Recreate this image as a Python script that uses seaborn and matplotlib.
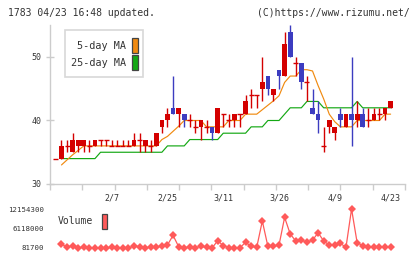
import numpy as np
import matplotlib
matplotlib.use('Agg')
import matplotlib.pyplot as plt
from matplotlib.patches import Rectangle
import seaborn as sns

# Daily candles (first entry is one extra day before the volume series)
opens = [34, 34, 36, 35, 36, 36, 36, 36, 37, 37, 36, 36, 36, 36, 36, 37, 36, 36, 36,
         39, 40, 42, 41, 41, 40, 39, 39, 39, 39, 38, 41, 40, 40, 41, 41, 44, 44, 45, 47,
         44, 48, 47, 54, 49, 49, 46, 42, 41, 36, 39, 38, 41, 39, 41, 40, 41, 40, 40, 41,
         41, 42]
highs = [34, 37, 37, 38, 37, 37, 37, 37, 37, 37, 37, 37, 37, 37, 38, 38, 37, 37, 38,
         40, 42, 47, 42, 41, 41, 40, 40, 40, 39, 42, 41, 41, 41, 41, 44, 45, 44, 50, 47,
         45, 48, 54, 55, 50, 49, 47, 45, 43, 39, 40, 39, 42, 41, 50, 43, 42, 42, 42, 42,
         42, 43]
lows = [34, 34, 35, 35, 35, 35, 35, 36, 36, 36, 36, 36, 36, 36, 36, 35, 35, 35, 36,
        38, 39, 41, 39, 39, 39, 38, 37, 38, 37, 38, 39, 39, 39, 39, 41, 42, 42, 43, 44,
        43, 45, 47, 50, 47, 45, 43, 41, 38, 35, 38, 37, 39, 39, 36, 39, 39, 39, 40, 40,
        40, 42]
closes = [34, 36, 36, 37, 37, 37, 36, 37, 37, 37, 36, 36, 36, 36, 37, 37, 37, 36, 38,
          40, 41, 41, 42, 40, 40, 39, 40, 39, 38, 42, 41, 40, 41, 41, 43, 44, 44, 46, 45,
          45, 47, 52, 50, 49, 46, 46, 41, 40, 36, 40, 39, 40, 41, 40, 41, 39, 40, 41, 41,
          42, 43]

ma5 = [33, 33.8, 34.6, 35.3, 36, 36, 36, 36, 36, 36,
       36, 36, 36, 36, 36, 36, 36, 36, 37, 37.5,
       38.3, 39.1, 40, 40, 40, 40, 39, 39, 39, 39,
       40, 40, 40, 41, 41, 41, 41.7, 42.4, 43.1, 43.9,
       46, 47, 47, 48, 48, 47.8, 45.5, 43.4, 41, 39.8,
       39, 39, 39, 40, 40, 40, 40, 40, 41, 41]
ma25 = [34, 34, 34, 34, 34, 34, 34, 35, 35, 35,
        35, 35, 35, 35, 35, 35, 35, 35, 35, 36,
        36, 36, 36, 37, 37, 37, 37, 37, 37, 38,
        38, 38, 38, 38, 39, 39, 39, 40, 40, 40,
        41, 42, 42, 42, 43, 43, 43, 42, 42, 42,
        42, 42, 42, 43, 42, 42, 42, 42, 42, 42]

volume = [1217000, 391000, 701000, 120000, 288000, 185000, 81700, 95000, 90000, 288000,
          88000, 185000, 85000, 701000, 494000, 92000, 391000, 288000, 804000, 1010000,
          4003000, 494000, 185000, 288000, 185000, 597000, 288000, 88000, 2352000, 804000,
          185000, 185000, 185000, 1836000, 597000, 288000, 8440000, 597000, 597000, 1010000,
          9575000, 4415000, 2249000, 2455000, 1939000, 2455000, 4828000, 2249000, 1010000, 1010000,
          1526000, 288000, 12154300, 1733000, 804000, 494000, 494000, 494000, 494000, 494000]

date_labels = ['2/7', '2/25', '3/11', '3/26', '4/9', '4/23']
date_pos = [9, 19, 29, 39, 49, 59]
price_ticks = [30, 40, 50]
vol_ticks = [81700, 6118000, 12154300]

RED = '#d40000'
BLUE = '#3c3cc0'
ORANGE = '#f08a10'
GREEN = '#14a814'
VOLC = '#ff5a5a'
GRAY = '#cccccc'
TXT = '#333333'

sns.set_theme(style='white')
plt.rcParams['font.family'] = ['DejaVu Sans Mono', 'DejaVu Sans']

W, H = 420, 259
fig = plt.figure(figsize=(W / 100, H / 100), dpi=100)


def px_axes(l, t, r, b):
    return fig.add_axes([l / W, 1 - b / H, (r - l) / W, (b - t) / H])


def px_rect(l, t, r, b, **kw):
    fig.add_artist(Rectangle((l / W, 1 - b / H), (r - l) / W, (b - t) / H,
                             transform=fig.transFigure, **kw))


ax = px_axes(50, 25.25, 405, 184)
axv = px_axes(50, 205, 405, 252)
xlim = (-2.06, 61.58)

# moving averages
vx = np.arange(len(volume))
sns.lineplot(x=vx, y=ma25, ax=ax, color=GREEN, lw=0.85, zorder=2)
sns.lineplot(x=vx, y=ma5, ax=ax, color=ORANGE, lw=0.85, zorder=2)

# candles
cx = np.arange(len(opens)) - 1
o = np.array(opens)
c = np.array(closes)
cols = [BLUE if cc < oo else RED for oo, cc in zip(o, c)]
ax.vlines(cx, lows, highs, colors=cols, lw=1.0, zorder=3)
body = o != c
ax.bar(cx[body], np.abs(c - o)[body], bottom=np.minimum(o, c)[body], width=0.85,
       color=np.array(cols)[body], lw=0, zorder=4)
ax.hlines(o[~body], cx[~body] - 0.45, cx[~body] + 0.45, colors=np.array(cols)[~body],
          lw=1.0, zorder=4)

ax.set_xlim(xlim)
ax.set_ylim(30, 55)
ax.set_xlabel('')
ax.set_ylabel('')
for s in ['top', 'right']:
    ax.spines[s].set_visible(False)
for s in ['left', 'bottom']:
    ax.spines[s].set_color(GRAY)
    ax.spines[s].set_linewidth(1)
ax.set_yticks(price_ticks)
ax.set_yticklabels([str(v) for v in price_ticks])
ax.tick_params(axis='y', direction='inout', length=6, width=1, color=GRAY,
               pad=3.2, labelsize=6, labelcolor=TXT, left=True)
ax.set_xticks(date_pos)
ax.set_xticklabels(date_labels)
ax.tick_params(axis='x', which='major', length=0, pad=7, labelsize=6, labelcolor=TXT)
ax.set_xticks(np.linspace(xlim[0], xlim[1], 12), minor=True)
ax.tick_params(axis='x', which='minor', direction='out', length=4, width=1,
               color=GRAY, bottom=True)

# volume panel
sns.lineplot(x=vx, y=volume, ax=axv, color=VOLC, lw=0.9, marker='D',
             markersize=3.8, markeredgewidth=0)
vpad = (vol_ticks[-1] - vol_ticks[0]) * 4 / 39
axv.set_xlim(xlim)
axv.set_ylim(vol_ticks[0] - vpad, vol_ticks[-1] + vpad)
axv.set_xlabel('')
axv.set_ylabel('')
for s in axv.spines.values():
    s.set_visible(False)
axv.set_xticks([])
axv.set_yticks(vol_ticks)
axv.set_yticklabels([str(v) for v in vol_ticks])
axv.tick_params(axis='y', length=0, pad=4.2, labelsize=5.3, labelcolor=TXT)
axv.patch.set_alpha(0)

# legends
px_rect(65, 30, 143, 77, facecolor='white', edgecolor='#d8d8d8', lw=1.2, zorder=5)
fig.text(126 / W, 1 - 46 / H, '5-day MA', ha='right', va='center', fontsize=7.3,
         color=TXT, zorder=6)
fig.text(126 / W, 1 - 63 / H, '25-day MA', ha='right', va='center', fontsize=7.3,
         color=TXT, zorder=6)
px_rect(131.5, 37.5, 137.5, 52.5, facecolor=ORANGE, edgecolor='#444444', lw=0.9, zorder=6)
px_rect(131.5, 55, 137.5, 70, facecolor=GREEN, edgecolor='#444444', lw=0.9, zorder=6)

fig.text(58 / W, 1 - 221.5 / H, 'Volume', ha='left', va='center', fontsize=7,
         color=TXT)
px_rect(101.5, 213.5, 107.5, 228.5, facecolor=VOLC, edgecolor='#444444', lw=0.9)

# header
fig.text(8 / W, 1 - 12.5 / H, '1783 04/23 16:48 updated.', ha='left', va='center',
         fontsize=7.0, color=TXT)
fig.text(410 / W, 1 - 12.5 / H, '(C)https://www.rizumu.net/', ha='right', va='center',
         fontsize=7.0, color=TXT)

fig.savefig('out.png', dpi=100)
